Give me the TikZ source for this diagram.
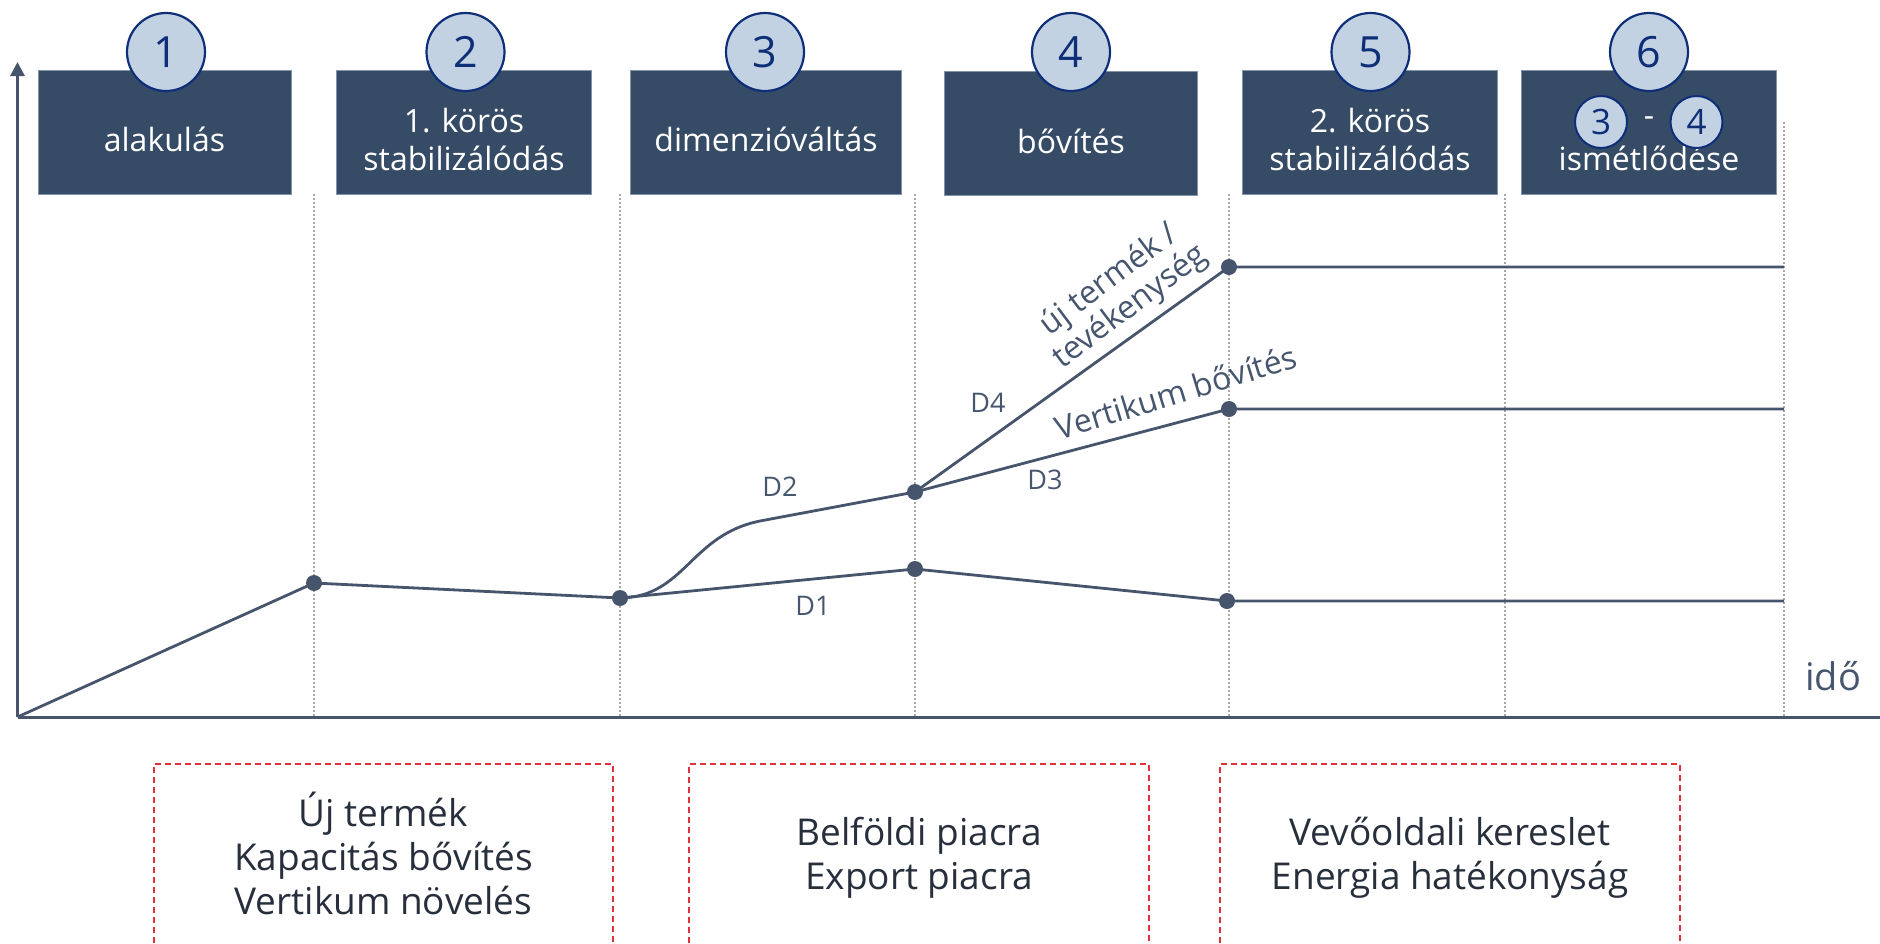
\documentclass[tikz,border=0pt]{standalone}
\usepackage{fontspec}
\setmainfont{Open Sans}
\usetikzlibrary{arrows.meta}
\definecolor{boxblue}{HTML}{364B65}
\definecolor{boxedge}{HTML}{8494A8}
\definecolor{circfill}{HTML}{C3D2E3}
\definecolor{circedge}{HTML}{0E2F78}
\definecolor{linecol}{HTML}{46556C}
\definecolor{gridgray}{HTML}{A8A8A8}
\definecolor{redline}{HTML}{E0313A}
\definecolor{textdark}{HTML}{262F3B}
\definecolor{labelcol}{HTML}{46566E}
\begin{document}
\begin{tikzpicture}[x=0.5pt,y=-0.5pt,
  phasebox/.style={fill=boxblue, draw=boxedge, line width=0.5pt, inner sep=0, minimum height=62pt},
  boxtext/.style={text=white, font=\fontsize{16}{19}\selectfont, align=center, inner sep=0},
  numcirc/.style={circle, fill=circfill, draw=circedge, line width=1.1pt, text=circedge, inner sep=0, minimum size=39pt, font=\fontsize{21.5}{21.5}\selectfont},
  smallcirc/.style={circle, fill=circfill, draw=circedge, line width=1pt, text=circedge, inner sep=0, minimum size=26pt, font=\fontsize{17.5}{17.5}\selectfont},
  graphline/.style={draw=linecol, line width=1.4pt, line join=round},
  axisline/.style={draw=linecol, line width=1.5pt},
  gridline/.style={draw=gridgray, line width=1pt, dash pattern=on 1pt off 1pt},
  dotnode/.style={circle, fill=linecol, inner sep=0, minimum size=8pt},
  dlabel/.style={text=labelcol, font=\fontsize{13.5}{13.5}\selectfont, inner sep=0},
  slabel/.style={text=labelcol, font=\fontsize{16}{16}\selectfont, align=center, inner sep=0},
  bottomtext/.style={text=textdark, font=\fontsize{18.5}{22}\selectfont, align=center, inner sep=0},
  redbox/.style={draw=redline, line width=0.7pt, dash pattern=on 3pt off 2pt}
]
\useasboundingbox (0,0) rectangle (1880,943);

% grid lines
\foreach \n/\xx/\yt in {1/314/194, 2/620/194, 3/915/194, 4/1229/194, 5/1505/194, 6/1784/122} {
  \coordinate (gt\n) at (\xx,\yt);
  \coordinate (gb\n) at (\xx,717);
  \draw[gridline] (gt\n) -- (gb\n);
}

% axes
\coordinate (o) at (17.5,717);
\coordinate (ytop) at (17.5,62);
\coordinate (xend) at (1880,717);
\draw[axisline, -{Triangle[width=7pt,length=7pt]}] (o) -- (ytop);
\draw[axisline] (o) -- (xend);
\node[text=labelcol, font=\fontsize{19}{19}\selectfont, inner sep=0] (ido) at (1833,676) {idő};

% graph coordinates
\coordinate (p1) at (314,583);
\coordinate (p2) at (620,598);
\coordinate (p3) at (915,569);
\coordinate (p4) at (1227,601);
\coordinate (e1) at (1784,601);
\coordinate (m) at (760,521);
\coordinate (q3) at (915,492);
\coordinate (qt) at (1229,267);
\coordinate (et) at (1784,267);
\coordinate (qm) at (1229,409);
\coordinate (em) at (1784,409);

\draw[graphline] (o) -- (p1) -- (p2) -- (p3) -- (p4) -- (e1);
\draw[graphline] (p2) .. controls (685,597) and (690,535) .. (m) -- (q3);
\draw[graphline] (q3) -- (qt) -- (et);
\draw[graphline] (q3) -- (qm) -- (em);

\foreach \c in {p1,p2,p3,p4,q3,qt,qm} {
  \node[dotnode] (d\c) at (\c) {};
}

% labels on graph
\node[dlabel] (lD1) at (813,606) {D1};
\node[dlabel] (lD2) at (780,487) {D2};
\node[dlabel] (lD3) at (1045,480) {D3};
\node[dlabel] (lD4) at (988,403) {D4};
\node[slabel, rotate=37] (lnew) at (1120,294) {új termék /\\tevékenység};
\node[slabel, rotate=17] (lvert) at (1176,392) {Vertikum bővítés};

% phase boxes
\node[phasebox, minimum width=126.5pt] (b1) at (164.5,132) {};
\node[phasebox, minimum width=127.5pt] (b2) at (464,132) {};
\node[phasebox, minimum width=135.5pt] (b3) at (766,132) {};
\node[phasebox, minimum width=126.5pt] (b4) at (1071,133) {};
\node[phasebox, minimum width=127.5pt] (b5) at (1370,132) {};
\node[phasebox, minimum width=127.5pt] (b6) at (1648.5,132) {};

\node[boxtext] (t1) at (164.5,139) {alakulás};
\node[boxtext] (t2) at (464,139) {1. körös\\stabilizálódás};
\node[boxtext] (t3) at (766,139) {dimenzióváltás};
\node[boxtext] (t4) at (1071,141) {bővítés};
\node[boxtext] (t5) at (1370,139) {2. körös\\stabilizálódás};
\node[boxtext] (t6) at (1649,158) {ismétlődése};
\node[boxtext] (t6d) at (1649,122) {-};

% number circles
\node[numcirc] (c1) at (166,52) {1};
\node[numcirc] (c2) at (465.5,52) {2};
\node[numcirc] (c3) at (765,52) {3};
\node[numcirc] (c4) at (1071,52) {4};
\node[numcirc] (c5) at (1370.5,52) {5};
\node[numcirc] (c6) at (1649,52) {6};
\node[smallcirc] (s3) at (1601,122) {3};
\node[smallcirc] (s4) at (1696.5,122) {4};

% bottom dashed boxes
\coordinate (ra1) at (154,943); \coordinate (ra2) at (154,764);
\coordinate (ra3) at (613,764); \coordinate (ra4) at (613,943);
\draw[redbox] (ra1) -- (ra2) -- (ra3) -- (ra4);
\coordinate (rb1) at (689,943); \coordinate (rb2) at (689,764);
\coordinate (rb3) at (1149,764); \coordinate (rb4) at (1149,943);
\draw[redbox] (rb1) -- (rb2) -- (rb3) -- (rb4);
\coordinate (rc1) at (1220,943); \coordinate (rc2) at (1220,764);
\coordinate (rc3) at (1680,764); \coordinate (rc4) at (1680,943);
\draw[redbox] (rc1) -- (rc2) -- (rc3) -- (rc4);

\node[bottomtext] (ba) at (383.5,853) {Új termék\\Kapacitás bővítés\\Vertikum növelés};
\node[bottomtext] (bb) at (919,858) {Belföldi piacra\\Export piacra};
\node[bottomtext] (bc) at (1450,858) {Vevőoldali kereslet\\Energia hatékonyság};
\end{tikzpicture}
\end{document}
